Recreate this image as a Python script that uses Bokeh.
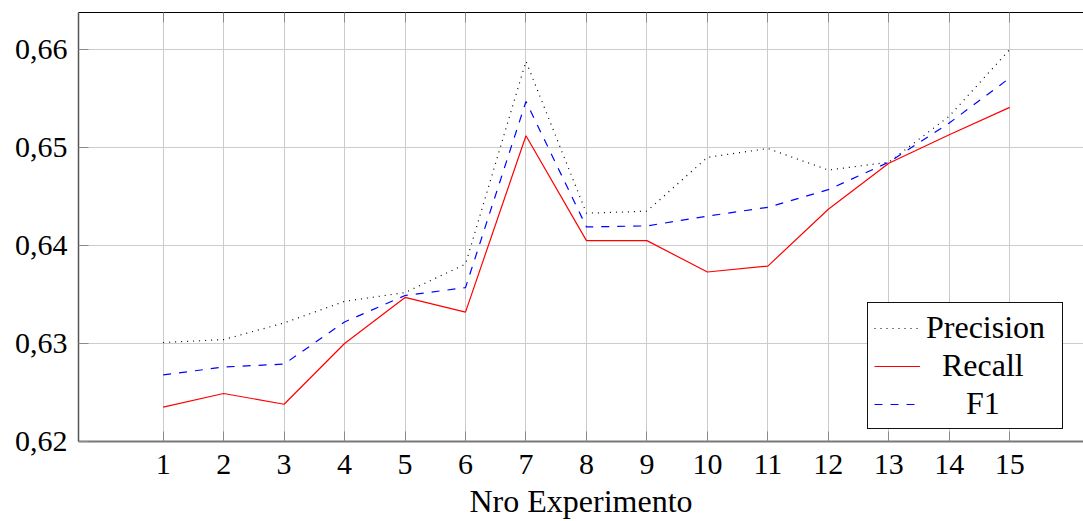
from bokeh.plotting import figure
from bokeh.models import (FixedTicker, CustomJSTickFormatter, LinearAxis, Range1d,
                          Legend, LegendItem, CustomLabelingPolicy)
from bokeh.embed import file_html
from bokeh.resources import INLINE

experiments = list(range(1, 16))
precision = [0.6301, 0.6304, 0.6321, 0.6343, 0.6352, 0.6381, 0.6588, 0.6433,
             0.6435, 0.6490, 0.6499, 0.6477, 0.6485, 0.6532, 0.6600]
recall = [0.6235, 0.6249, 0.6238, 0.6300, 0.6347, 0.6332, 0.6512, 0.6405,
          0.6405, 0.6373, 0.6379, 0.6437, 0.6484, 0.6513, 0.6541]
f1 = [0.6268, 0.6276, 0.6279, 0.6322, 0.6349, 0.6357, 0.6547, 0.6419,
      0.6420, 0.6430, 0.6439, 0.6457, 0.6485, 0.6525, 0.6571]
y_ticks = [0.62, 0.63, 0.64, 0.65, 0.66]
x_label = "Nro Experimento"
series_names = ["Precision", "Recall", "F1"]

FONT = "Liberation Serif"
FS = "30px"
FS_BIG = "32px"

p = figure(width=1083, height=521, output_backend="svg", toolbar_location=None,
           x_range=Range1d(-0.40, 16.22), y_range=Range1d(0.62, 0.66378),
           min_border_left=78, min_border_right=0, min_border_top=12,
           min_border_bottom=80)
p.outline_line_color = None
p.background_fill_color = "white"
p.border_fill_color = "white"

r_prec = p.line(experiments, precision, line_color="#000000", line_width=1.2,
                line_dash="1 5")
r_rec = p.line(experiments, recall, line_color="#ff0000", line_width=1.2)
r_f1 = p.line(experiments, f1, line_color="#0000ff", line_width=1.2,
              line_dash="8 8")

xt = FixedTicker(ticks=experiments, minor_ticks=[])
yt = FixedTicker(ticks=y_ticks, minor_ticks=[])

xa = p.xaxis[0]
xa.ticker = xt
xa.axis_label = x_label
xa.axis_label_text_font = FONT
xa.axis_label_text_font_size = FS_BIG
xa.axis_label_text_font_style = "normal"
xa.axis_label_text_color = "black"
xa.axis_label_standoff = 6
xa.major_label_text_font = FONT
xa.major_label_text_font_size = FS
xa.major_label_text_color = "black"
xa.major_label_standoff = 13
xa.major_tick_in = 10
xa.major_tick_out = 0
xa.major_tick_line_color = "#8a8a8a"
xa.minor_tick_line_color = None
xa.axis_line_color = "#777777"
xa.axis_line_width = 2.2

ya = p.yaxis[0]
ya.ticker = yt
ya.formatter = CustomJSTickFormatter(code="return tick.toFixed(2).replace('.', ',');")
ya.major_label_text_font = FONT
ya.major_label_text_font_size = FS
ya.major_label_text_color = "black"
ya.major_label_standoff = 11
ya.major_tick_in = 10
ya.major_tick_out = 0
ya.major_tick_line_color = "#8a8a8a"
ya.minor_tick_line_color = None
ya.axis_line_color = "#555555"
ya.axis_line_width = 1.5

top = LinearAxis(ticker=xt, major_label_text_font_size="0px", major_label_standoff=0,
                 major_label_policy=CustomLabelingPolicy(code="return new Set()"),
                 major_tick_in=10, major_tick_out=0, major_tick_line_color="#8a8a8a",
                 minor_tick_line_color=None, axis_line_color="black",
                 axis_line_width=1.2)
p.add_layout(top, "above")

p.xgrid.ticker = xt
p.ygrid.ticker = yt
p.xgrid.grid_line_color = "#cccccc"
p.ygrid.grid_line_color = "#cccccc"
p.xgrid.grid_line_width = 1
p.ygrid.grid_line_width = 1

nb = "\u00a0"
legend = Legend(items=[
    LegendItem(label=series_names[0], renderers=[r_prec]),
    LegendItem(label=nb * 2 + series_names[1], renderers=[r_rec]),
    LegendItem(label=nb * 5 + series_names[2], renderers=[r_f1]),
], location=(789, 12), orientation="vertical")
legend.label_text_font = FONT
legend.label_text_font_size = FS_BIG
legend.label_text_color = "black"
legend.border_line_color = "#111111"
legend.border_line_width = 1
legend.border_line_alpha = 1
legend.background_fill_color = "white"
legend.background_fill_alpha = 1
legend.glyph_width = 46
legend.glyph_height = 36
legend.label_height = 36
legend.label_width = 130
legend.label_standoff = 6
legend.spacing = 1
legend.padding = 6
legend.margin = 0
p.add_layout(legend, "center")

open("out.html", "w").write(file_html(p, INLINE))
